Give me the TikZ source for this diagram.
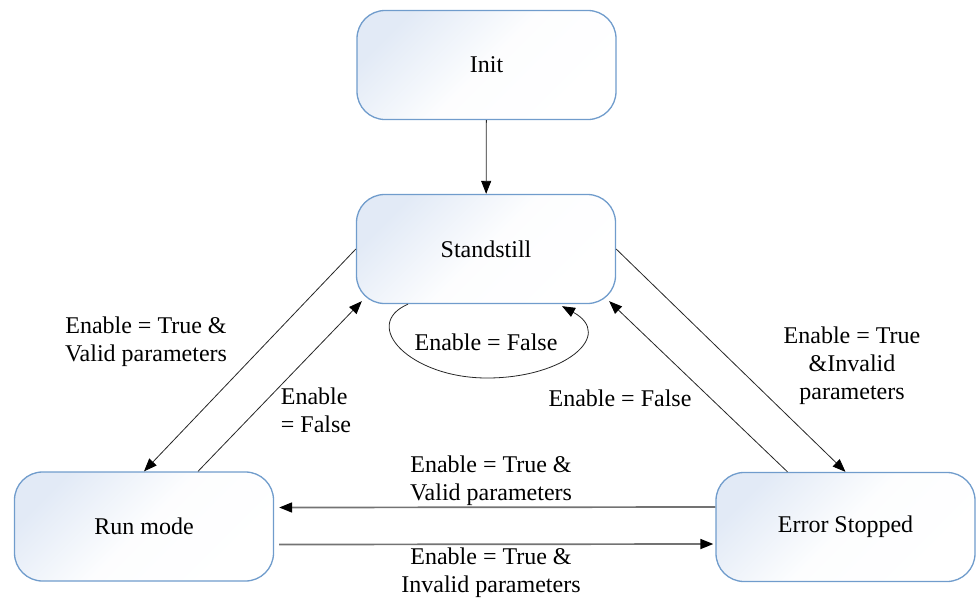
\documentclass[tikz,border=0pt]{standalone}
\usepackage{fontspec}
\setmainfont{Liberation Serif}
\newfontfamily\tnr{Liberation Serif}
\usetikzlibrary{arrows.meta,calc}
\definecolor{boxblue}{RGB}{112,156,204}
\definecolor{boxfill}{RGB}{226,234,246}
\begin{document}
\begin{tikzpicture}[x=1pt,y=-1pt,
  state/.style={draw=boxblue, line width=1.3pt, rounded corners=28pt,
    minimum width=259pt, minimum height=109pt, inner sep=0pt,
    top color=boxfill, bottom color=white, middle color=white!92!boxfill, shading angle=45,
    font=\tnr\fontsize{24}{28}\selectfont},
  lbl/.style={align=center, inner sep=0pt, font=\tnr\fontsize{24}{28}\selectfont},
  conn/.style={draw=black!85, line width=0.8pt, -{Triangle[length=13pt,width=10pt,color=black]}},
  hconn/.style={draw=black!55, line width=1.7pt, -{Triangle[length=13pt,width=10pt,color=black]}}]
\useasboundingbox (0,0) rectangle (980,603);
\node[state] (init) at (486.5,65) {Init};
\node[state] (ss)   at (486,249) {Standstill};
\node[state] (run)  at (144,526.5) {Run mode};
\node[state] (err)  at (845.5,527) {Error Stopped};
% connectors
\draw[conn] (init) -- (ss);
\draw[conn] (ss.west) -- (run.north);
\draw[conn] ($(run.north)+(54,0)$) -- ($(ss.south west)+(6,-3)$);
\draw[conn] (ss.east) -- (err.north);
\draw[conn] ($(err.north)+(-58,0)$) -- ($(ss.south east)+(-7,-3)$);
\draw[hconn] ($(err.west)+(0,-20)$) -- ($(run.east)+(5,-19)$);
\draw[hconn] ($(run.east)+(5,18)$) -- ($(err.west)+(-2,17)$);
\draw[conn] ($(ss.south)+(-78,0)$) .. controls (360,325) and (410,378) .. (487,378)
  .. controls (565,378) and (615,335) .. ($(ss.south)+(76,2)$);
% labels
\node[lbl] (l1) at (146,342) {Enable = True \&\\Valid parameters};
\node[lbl, align=left] (l2) at (316,410) {Enable\\= False};
\node[lbl] (l3) at (486,342) {Enable = False};
\node[lbl] (l4) at (620,398) {Enable = False};
\node[lbl] (l5) at (852,366) {Enable = True\\\&Invalid\\parameters};
\node[lbl] (l6) at (491,481) {Enable = True \&\\Valid parameters};
\node[lbl] (l7) at (491,573) {Enable = True \&\\Invalid parameters};
\end{tikzpicture}
\end{document}
